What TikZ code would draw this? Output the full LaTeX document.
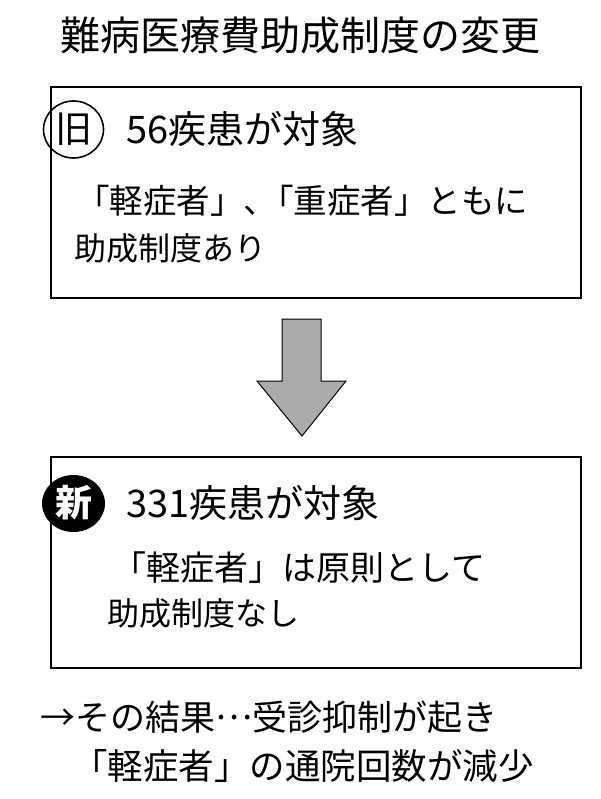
\documentclass[tikz,border=0pt]{standalone}
\usepackage{fontspec}
\setmainfont{Noto Sans CJK JP}
\newfontfamily\cjkp[RawFeature=+palt]{Noto Sans CJK JP}
\begin{document}
\begin{tikzpicture}[x=1pt,y=-1pt,
  panel/.style={draw=black,line width=1.6pt},
  lbl/.style={anchor=west,inner sep=0pt},
  fs/.style={font=\fontsize{#1}{#1}\selectfont}]
\useasboundingbox (0,0) rectangle (600,799);
\node[inner sep=0pt,fs=40] (title) at (300,35) {難病医療費助成制度の変更};
\draw[panel] (51,87) rectangle (581,298);
\draw[line width=1.6pt] (73.5,129.5) ellipse [x radius=30,y radius=28.5];
\node[inner sep=0pt,fs=37] (old) at (74,129) {旧};
\node[lbl,fs=38] (oldt) at (126,129) {56疾患が対象};
\node[lbl,fs=33.5] (oldl1) at (76,201) {「軽症者」{\cjkp 、}「重症者」ともに};
\node[lbl,fs=32] (oldl2) at (74,248) {助成制度あり};
\draw[line width=1pt,fill=black!33] (282,319) -- (321,319) -- (321,381) -- (346,381) -- (302,436) -- (257,381) -- (282,381) -- cycle;
\draw[panel] (51,457) rectangle (581,668);
\fill (73.5,503.5) ellipse [x radius=31.5,y radius=28.5];
\node[inner sep=0pt,text=white,font={\fontsize{37}{37}\selectfont\bfseries}] (new) at (74,503) {新};
\node[lbl,fs=38] (newt) at (126,503) {331疾患が対象};
\node[lbl,fs=34] (newl1) at (112,568) {「軽症者」は原則として};
\node[lbl,fs=32] (newl2) at (107,613) {助成制度なし};
\node[lbl,fs=35] (res1) at (40,717) {→その結果\raisebox{0.3em}{…}受診抑制が起き};
\node[lbl,fs=35.5] (res2) at (72,766) {「軽症者」の通院回数が減少};
\end{tikzpicture}
\end{document}
